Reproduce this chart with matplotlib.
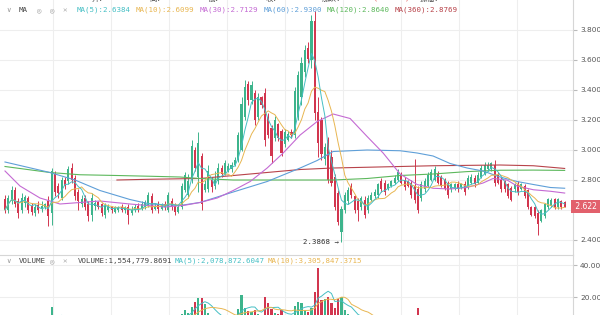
import numpy as np
import pandas as pd
import matplotlib
matplotlib.use('Agg')
import matplotlib.pyplot as plt
from matplotlib.transforms import blended_transform_factory

# candles, oldest first (price)
opens = [2.67, 2.60, 2.66, 2.73, 2.66, 2.60, 2.65, 2.68, 2.63, 2.58,
         2.63, 2.61, 2.62, 2.66, 2.58, 2.84, 2.76, 2.68, 2.80, 2.79,
         2.88, 2.81, 2.72, 2.64, 2.68, 2.64, 2.57, 2.63, 2.65, 2.64,
         2.57, 2.60, 2.62, 2.59, 2.60, 2.62, 2.60, 2.62, 2.58, 2.60,
         2.63, 2.61, 2.62, 2.63, 2.69, 2.61, 2.64, 2.61, 2.64, 2.60,
         2.66, 2.63, 2.59, 2.62, 2.73, 2.70, 2.80, 3.00, 2.82, 2.96,
         2.73, 2.74, 2.80, 2.76, 2.79, 2.88, 2.84, 2.86, 2.87, 2.90,
         2.93, 3.00, 3.22, 3.44, 3.33, 3.38, 3.22, 3.35, 3.38, 3.22,
         3.15, 3.08, 3.17, 3.13, 3.04, 3.07, 3.12, 3.10, 3.22, 3.35,
         3.52, 3.68, 3.60, 3.86, 3.25, 3.20, 2.94, 3.07, 2.95, 2.82,
         2.71, 2.45, 2.60, 2.66, 2.76, 2.69, 2.66, 2.62, 2.67, 2.60,
         2.67, 2.69, 2.70, 2.79, 2.78, 2.74, 2.76, 2.78, 2.80, 2.84,
         2.80, 2.79, 2.78, 2.76, 2.74, 2.68, 2.74, 2.76, 2.80, 2.80,
         2.84, 2.82, 2.80, 2.78, 2.74, 2.74, 2.77, 2.75, 2.77, 2.75,
         2.78, 2.81, 2.78, 2.82, 2.84, 2.87, 2.87, 2.90, 2.83, 2.80,
         2.79, 2.77, 2.75, 2.74, 2.77, 2.74, 2.76, 2.73, 2.62, 2.62,
         2.58, 2.53, 2.56, 2.62, 2.63, 2.67, 2.62, 2.66, 2.6517]
highs = [2.70, 2.70, 2.76, 2.75, 2.68, 2.71, 2.70, 2.69, 2.65, 2.64,
         2.66, 2.66, 2.65, 2.69, 2.88, 2.86, 2.78, 2.82, 2.82, 2.89,
         2.91, 2.83, 2.74, 2.70, 2.70, 2.66, 2.71, 2.67, 2.66, 2.65,
         2.65, 2.64, 2.63, 2.63, 2.63, 2.64, 2.63, 2.64, 2.63, 2.64,
         2.65, 2.66, 2.67, 2.72, 2.71, 2.65, 2.66, 2.65, 2.66, 2.72,
         2.68, 2.65, 2.64, 2.78, 2.85, 2.84, 3.07, 3.02, 3.12, 2.98,
         2.80, 2.90, 2.82, 2.86, 2.91, 2.90, 2.93, 2.91, 2.92, 2.95,
         3.12, 3.35, 3.47, 3.46, 3.46, 3.40, 3.38, 3.36, 3.41, 3.25,
         3.17, 3.23, 3.18, 3.14, 3.14, 3.13, 3.14, 3.42, 3.53, 3.62,
         3.70, 3.72, 3.90, 3.93, 3.35, 3.22, 3.05, 3.09, 3.00, 2.84,
         2.73, 2.63, 2.72, 2.75, 2.78, 2.70, 2.68, 2.69, 2.69, 2.70,
         2.72, 2.74, 2.78, 2.81, 2.80, 2.78, 2.80, 2.83, 2.87, 2.85,
         2.82, 2.80, 2.80, 2.94, 2.76, 2.79, 2.81, 2.85, 2.87, 2.89,
         2.86, 2.83, 2.81, 2.79, 2.78, 2.78, 2.79, 2.78, 2.79, 2.83,
         2.84, 2.83, 2.85, 2.90, 2.92, 2.92, 2.92, 2.93, 2.85, 2.82,
         2.80, 2.78, 2.76, 2.78, 2.79, 2.78, 2.77, 2.74, 2.63, 2.63,
         2.60, 2.61, 2.65, 2.68, 2.68, 2.68, 2.68, 2.67, 2.6588]
lows = [2.58, 2.58, 2.64, 2.62, 2.55, 2.58, 2.62, 2.58, 2.57, 2.56,
        2.58, 2.59, 2.61, 2.49, 2.50, 2.69, 2.68, 2.67, 2.74, 2.77,
        2.78, 2.67, 2.60, 2.62, 2.60, 2.53, 2.53, 2.60, 2.61, 2.56,
        2.55, 2.59, 2.58, 2.58, 2.59, 2.59, 2.58, 2.51, 2.57, 2.59,
        2.59, 2.60, 2.61, 2.62, 2.58, 2.60, 2.58, 2.60, 2.60, 2.59,
        2.60, 2.57, 2.58, 2.61, 2.72, 2.68, 2.78, 2.86, 2.72, 2.60,
        2.72, 2.72, 2.72, 2.74, 2.77, 2.82, 2.83, 2.85, 2.85, 2.89,
        2.92, 2.99, 3.20, 3.30, 3.31, 3.17, 3.20, 3.28, 3.03, 3.08,
        2.91, 3.06, 3.06, 2.96, 3.02, 3.06, 3.08, 3.08, 3.20, 3.30,
        3.49, 3.58, 3.55, 3.20, 2.95, 2.93, 2.90, 2.78, 2.76, 2.60,
        2.50, 2.3868, 2.58, 2.64, 2.68, 2.58, 2.53, 2.60, 2.55, 2.58,
        2.66, 2.68, 2.68, 2.72, 2.70, 2.73, 2.75, 2.77, 2.79, 2.77,
        2.73, 2.75, 2.68, 2.65, 2.58, 2.66, 2.72, 2.75, 2.79, 2.79,
        2.77, 2.75, 2.73, 2.68, 2.72, 2.73, 2.72, 2.74, 2.70, 2.74,
        2.77, 2.75, 2.77, 2.81, 2.83, 2.86, 2.86, 2.76, 2.77, 2.72,
        2.72, 2.68, 2.66, 2.72, 2.70, 2.73, 2.68, 2.61, 2.56, 2.55,
        2.43, 2.52, 2.55, 2.61, 2.62, 2.61, 2.61, 2.61, 2.6199]
closes = [2.60, 2.68, 2.73, 2.64, 2.58, 2.68, 2.69, 2.60, 2.59, 2.62,
          2.60, 2.63, 2.64, 2.56, 2.86, 2.72, 2.71, 2.80, 2.76, 2.87,
          2.80, 2.69, 2.66, 2.67, 2.62, 2.56, 2.68, 2.65, 2.62, 2.58,
          2.63, 2.62, 2.60, 2.62, 2.61, 2.60, 2.62, 2.57, 2.60, 2.62,
          2.61, 2.64, 2.65, 2.70, 2.60, 2.63, 2.61, 2.64, 2.62, 2.70,
          2.62, 2.59, 2.62, 2.76, 2.83, 2.79, 3.03, 2.88, 3.05, 2.64,
          2.77, 2.86, 2.75, 2.80, 2.88, 2.84, 2.91, 2.89, 2.90, 2.93,
          3.10, 3.31, 3.42, 3.33, 3.43, 3.20, 3.35, 3.30, 3.07, 3.10,
          2.96, 3.20, 3.08, 2.98, 3.12, 3.11, 3.10, 3.39, 3.50, 3.58,
          3.67, 3.61, 3.86, 3.25, 3.05, 2.97, 3.02, 2.80, 2.78, 2.62,
          2.52, 2.61, 2.70, 2.73, 2.70, 2.60, 2.60, 2.68, 2.57, 2.68,
          2.70, 2.72, 2.77, 2.74, 2.72, 2.77, 2.79, 2.81, 2.85, 2.78,
          2.75, 2.76, 2.70, 2.67, 2.60, 2.77, 2.79, 2.83, 2.85, 2.87,
          2.78, 2.76, 2.74, 2.70, 2.77, 2.77, 2.74, 2.77, 2.72, 2.81,
          2.82, 2.77, 2.83, 2.88, 2.90, 2.90, 2.91, 2.78, 2.78, 2.74,
          2.74, 2.69, 2.67, 2.77, 2.72, 2.77, 2.69, 2.62, 2.57, 2.56,
          2.51, 2.60, 2.64, 2.67, 2.67, 2.62, 2.67, 2.62, 2.622]
# volume in millions
volumes = [5.2, 6.1, 7.0, 5.8, 6.5, 5.0, 4.6, 5.5, 4.8, 4.2, 4.9, 4.5, 4.0, 7.5,
           13.8,
           8.0, 6.2, 7.1, 5.4, 7.6, 8.2, 6.9, 6.0, 4.8, 5.2,
           6.3, 7.0, 4.5, 3.9, 5.1, 4.6, 3.8, 3.5, 4.1, 3.7, 4.4, 3.6, 5.8, 4.0,
           3.9, 4.2, 4.6, 4.9, 7.2, 6.8, 4.5, 4.3, 4.0, 4.4, 7.6, 5.9, 5.2, 4.8,
           9.5, 11.9, 10.2, 14.0, 16.9, 19.4, 19.4, 15.6, 9.8, 8.5,
           7.8, 9.0, 7.2, 8.4, 6.9, 7.5, 8.1, 12.5,
           21.2, 13.0, 11.5, 10.8, 12.0, 9.6, 8.8, 20.0, 16.0, 12.5,
           10.0, 9.5, 11.8, 8.6, 7.9, 8.3, 14.5, 17.0,
           16.0, 12.0, 10.5, 13.0, 23.0, 38.0, 18.0, 19.0, 20.0, 16.0, 13.0, 19.0, 20.0,
           12.0, 9.5, 8.0, 7.2, 8.5, 6.8, 7.9, 6.5, 6.0, 5.8, 7.4, 6.9, 6.2, 5.5,
           5.9, 6.4, 7.8, 6.6, 6.1, 5.7, 7.0, 8.2,
           13.0,
           7.5, 6.2, 5.8, 6.4, 7.0, 5.9, 5.1, 4.8, 5.5, 4.6, 4.2, 4.5, 3.9, 4.8,
           5.2, 4.4, 4.7, 5.0, 6.1, 6.8, 5.6, 5.3, 8.0, 6.5, 5.4, 4.9, 5.7, 6.0,
           4.5, 4.8, 4.3, 5.1, 6.2, 7.1,
           5.0, 4.6, 4.6, 4.3, 4.2, 2.6, 2.2, 2.0, 2.05, 1.55548]

# long moving averages (candle index, value)
ma30_idx = [0, 4.5, 10.5, 16.5, 22.5, 28.5, 37.5, 48, 53.5, 58.5, 63.7, 68.5, 73.6,
            78.7, 83.5, 88.6, 93.7, 98.5, 103.6, 108.7, 113.5, 118.6, 123.7, 128.5,
            133.6, 138.7, 143.5, 146.5, 150.7, 153.7, 158.6, 163.7, 168]
ma30_val = [2.86, 2.76, 2.68, 2.64, 2.65, 2.66, 2.64, 2.62, 2.63, 2.65, 2.68, 2.73, 2.79,
            2.88, 2.98, 3.10, 3.19, 3.24, 3.21, 3.09, 2.98, 2.84, 2.77, 2.745,
            2.74, 2.75, 2.78, 2.81, 2.80, 2.76, 2.735, 2.725, 2.713]
ma60_idx = [0, 13.5, 21, 28.5, 37.5, 43.5, 52.5, 58.5, 68.5, 78.7, 88.6, 93.7, 98.5,
            108.7, 118.6, 123.7, 128.5, 133.6, 138.7, 143.5, 148.6, 153.7, 158.6, 163.7, 168]
ma60_val = [2.92, 2.85, 2.80, 2.73, 2.67, 2.64, 2.63, 2.65, 2.72, 2.79, 2.88, 2.93, 2.99,
            3.00, 2.995, 2.98, 2.96, 2.91, 2.88, 2.86, 2.82, 2.79, 2.77, 2.75, 2.745]
ma120_idx = [0, 13.5, 22.5, 33.6, 43.5, 52.5, 58.5, 68.5, 78.7, 88.6, 98.5, 108.7,
             118.6, 128.5, 138.7, 148.6, 158.6, 168]
ma120_val = [2.89, 2.85, 2.835, 2.83, 2.825, 2.82, 2.81, 2.80, 2.80, 2.80, 2.80, 2.81,
             2.83, 2.84, 2.856, 2.865, 2.866, 2.864]
ma360_idx = [33.6, 43.5, 58.5, 73.6, 88.6, 98.5, 108.7, 128.5, 148.6, 158.6, 168]
ma360_val = [2.80, 2.805, 2.81, 2.84, 2.87, 2.88, 2.885, 2.895, 2.90, 2.895, 2.877]

price_ticks = [2.4, 2.6, 2.8, 3.0, 3.2, 3.4, 3.6, 3.8]
vol_ticks = [20, 40]

up_col = '#3db48c'
down_col = '#d2364f'
c_ma5, c_ma10, c_ma30 = '#45bfc4', '#e8b651', '#c46ad3'
c_ma60, c_ma120, c_ma360 = '#5f9fd8', '#5cb85c', '#b8434a'
grid_col = '#eeeeee'

o = np.array(opens)
h = np.array(highs)
l = np.array(lows)
c = np.array(closes)
v = np.array(volumes)
x = np.arange(len(c))
cols = np.where(c >= o, up_col, down_col)

ma5 = pd.Series(c).rolling(5, min_periods=1).mean()
ma10 = pd.Series(c).rolling(10, min_periods=1).mean()
vma5 = pd.Series(v).rolling(5, min_periods=1).mean()
vma10 = pd.Series(v).rolling(10, min_periods=1).mean()

W, H = 600, 315
fig = plt.figure(figsize=(6, 3.15), dpi=100)
ax = fig.add_axes([0, 60 / H, 573 / W, 255 / H])
axv = fig.add_axes([0, 0, 573 / W, 60 / H])

grid_x = np.arange(14.4, 170, 17.4)
for a in (ax, axv):
    a.set_xlim(-1.5, 170.5)
    a.set_xticks(grid_x)
    a.tick_params(axis='x', length=0, labelbottom=False)
    a.grid(True, color=grid_col, lw=0.8)
    a.set_axisbelow(True)
    for s in ('left', 'top', 'bottom'):
        a.spines[s].set_visible(False)
    a.spines['right'].set_color('#d6d6d6')
    a.yaxis.tick_right()
    a.tick_params(axis='y', length=3, color='#bbbbbb', labelsize=5.3,
                  labelcolor='#555555', pad=2)
axv.spines['top'].set_visible(True)
axv.spines['top'].set_color('#d6d6d6')

# price panel
ax.set_ylim(2.3, 4.0)
ax.set_yticks(price_ticks)
ax.set_yticklabels(['%.3f' % t for t in price_ticks])
ax.vlines(x, l, h, colors=cols, lw=0.7, zorder=2)
ax.bar(x, np.maximum(np.abs(c - o), 0.004), bottom=np.minimum(o, c), width=0.62,
       color=cols, lw=0, zorder=3)
ax.plot(ma360_idx, ma360_val, color=c_ma360, lw=0.8, zorder=4)
ax.plot(ma120_idx, ma120_val, color=c_ma120, lw=0.8, zorder=4)
ax.plot(ma60_idx, ma60_val, color=c_ma60, lw=0.8, zorder=4)
ax.plot(ma30_idx, ma30_val, color=c_ma30, lw=0.8, zorder=4)
ax.plot(x, ma10, color=c_ma10, lw=0.7, zorder=4)
ax.plot(x, ma5, color=c_ma5, lw=0.7, zorder=4)

low_i = int(np.argmin(l))
ax.text(low_i - 0.8, l[low_i], '%.4f \u2192' % l[low_i], ha='right', va='center',
        fontsize=5.3, color='#333333', family='DejaVu Sans Mono')
tr = blended_transform_factory(ax.transAxes, ax.transData)
ax.text(1.0, c[-1], ' %.3f  ' % c[-1], transform=tr, ha='left', va='center',
        fontsize=5.5, color='white', clip_on=False,
        bbox=dict(boxstyle='square,pad=0.3', fc='#e2606c', ec='none'))

# volume panel
axv.set_ylim(8.75, 46.25)
axv.set_yticks(vol_ticks)
axv.set_yticklabels(['%.3fM' % t for t in vol_ticks])
axv.bar(x, v, width=0.62, color=cols, lw=0, zorder=3)
axv.plot(x, vma5, color=c_ma5, lw=0.7, zorder=4)
axv.plot(x, vma10, color=c_ma10, lw=0.7, zorder=4)

mono = ['DejaVu Sans Mono', 'DejaVu Sans', 'Noto Sans CJK SC']


def put(px, py, s, col, size=5.4):
    fig.text(px / W, 1 - py / H, s, color=col, fontsize=size, family=mono,
             ha='left', va='center')


# cut-off top line
top_items = [(0, 'ASAR2021-01-25 16:00', '#444444'), (92, '开:', '#444444'),
             (103, '2.6517', '#e0514f'), (150, '高:', '#444444'), (161, '2.6588', '#e0514f'),
             (208, '低:', '#444444'), (219, '2.6199', '#e0514f'), (266, '收:', '#444444'),
             (277, '2.6220', '#e0514f'), (322, '涨跌:', '#444444'),
             (343, '-0.0300(-1.13%)', '#e0514f'), (420, '振幅:', '#444444'),
             (441, '1.47%', '#e0514f')]
for px, s, col in top_items:
    put(px, -2, s, col)

ma_items = [(6, '\u2228', '#999999'), (19, 'MA', '#444444'), (37, '\u25ce', '#aaaaaa'),
            (50, '\u25ce', '#aaaaaa'), (63, '\u2715', '#aaaaaa'),
            (77, 'MA(5):2.6384', c_ma5), (136, 'MA(10):2.6099', c_ma10),
            (200, 'MA(30):2.7129', c_ma30), (264, 'MA(60):2.9300', c_ma60),
            (327, 'MA(120):2.8640', c_ma120), (395, 'MA(360):2.8769', c_ma360)]
for px, s, col in ma_items:
    put(px, 10, s, col)

vol_items = [(6, '\u2228', '#999999'), (19, 'VOLUME', '#444444'), (50, '\u25ce', '#aaaaaa'),
             (63, '\u2715', '#aaaaaa'), (78, 'VOLUME:1,554,779.8691', '#444444'),
             (175, 'MA(5):2,078,872.6047', c_ma5), (268, 'MA(10):3,305,847.3715', c_ma10)]
for px, s, col in vol_items:
    put(px, 261, s, col)

fig.savefig('out.png', dpi=100)
